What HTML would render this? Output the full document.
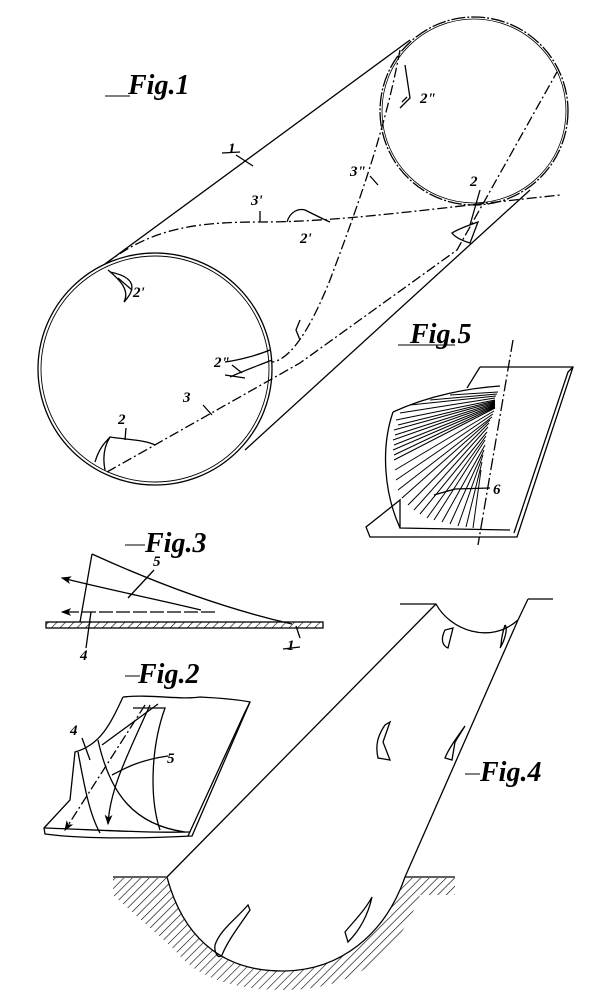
<!DOCTYPE html>
<html><head><meta charset="utf-8"><style>
html,body{margin:0;padding:0;background:#fff;}
svg{display:block}
text{font-family:"Liberation Serif",serif;font-style:italic;font-weight:bold;fill:#000}
.f{font-size:28px}
.n{font-size:15px}
</style></head><body>
<svg width="600" height="1000" viewBox="0 0 600 1000" xmlns="http://www.w3.org/2000/svg">
<defs>
<pattern id="h" width="6" height="6" patternUnits="userSpaceOnUse" patternTransform="rotate(45)">
<line x1="0" y1="0" x2="0" y2="6" stroke="#000" stroke-width="1.2"/></pattern>
<marker id="a" markerWidth="8" markerHeight="8" refX="7" refY="4" orient="auto"><path d="M8,4 L0,1 L2,4 L0,7Z" fill="#000"/></marker>
</defs>
<g fill="none" stroke="#000" stroke-width="1.3">
<!-- Fig1 -->
<line x1="105" y1="264" x2="410" y2="40"/>
<line x1="245" y1="450" x2="530" y2="190"/>
<ellipse cx="474" cy="111" rx="94" ry="94" stroke-dasharray="14 2 2 2"/>
<ellipse cx="474" cy="111" rx="92" ry="92" stroke-width="0.8"/>
<ellipse cx="155" cy="369" rx="117" ry="116"/>
<ellipse cx="155" cy="369" rx="114" ry="113" stroke-width="0.9"/>
<path d="M105,264 C150,230 190,222 260,222 C340,222 420,210 560,195" stroke-dasharray="10 3 2 3"/>
<path d="M400,50 C385,130 360,200 330,280 C310,330 290,360 272,362" stroke-dasharray="10 3 2 3"/>
<path d="M107,472 L300,363 L457,250 L557,72" stroke-dasharray="10 3 2 3"/>
<path d="M108,270 C120,280 130,290 124,302 M110,272 C130,276 140,285 124,302"/>
<path d="M225,362 C240,360 258,355 270,350 M230,377 C245,370 260,365 272,360 M225,375 L245,378"/>
<path d="M95,462 C100,445 108,440 110,437 C130,440 145,440 155,445 M105,470 C102,455 105,445 110,437"/>
<path d="M405,65 L410,98 L400,108"/>
<path d="M452,233 C460,228 470,225 478,222 L470,243 C460,240 455,237 452,233Z"/>
<path d="M287,222 C290,212 298,208 305,210 C315,215 325,220 330,222"/>
<path d="M300,320 L296,330 L300,340"/>
<line x1="236" y1="155" x2="253" y2="166"/><line x1="222" y1="153" x2="240" y2="152"/>
<line x1="260" y1="211" x2="260" y2="222"/>
<line x1="370" y1="176" x2="378" y2="185"/>
<line x1="480" y1="190" x2="470" y2="225"/>
<line x1="203" y1="405" x2="212" y2="415"/>
<line x1="126" y1="428" x2="125" y2="440"/>
<line x1="232" y1="365" x2="242" y2="373"/>
<line x1="407" y1="97" x2="402" y2="102"/>
<line x1="132" y1="290" x2="118" y2="278"/>
<line x1="105" y1="96" x2="130" y2="96" stroke-width="1"/>
<!-- Fig5 -->
<line x1="398" y1="345" x2="455" y2="345" stroke-width="1"/>
<path d="M480,367 L573,367 L517,537 L370,537 L366,527 L400,500 L400,528 L510,530 M573,367 L568,372 L514,533"/>
<path d="M480,367 L467,388"/>
<path d="M393,412 C430,395 470,388 500,386"/>
<path d="M393,412 C380,450 385,495 400,528"/>
<path d="M513,340 L478,545" stroke-dasharray="12 3 2 3"/>
<g stroke-width="1">
<path d="M495,400 L396,420 M495,402 L394,430 M495,404 L393,440 M495,406 L393,450 M495,408 L394,460 M494,411 L395,470 M493,414 L396,480 M492,417 L398,490 M490,420 L402,498 M489,423 L408,505 M488,427 L414,510 M487,432 L420,514 M486,436 L427,518 M485,440 L434,520 M485,445 L442,522 M484,450 L450,524 M483,455 L458,526 M482,462 L466,527 M481,470 L473,528 M495,398 L400,413 M496,396 L410,405 M497,394 L430,400 M498,392 L450,395 M495,401 L398,425 M495,403 L395,435 M495,405 L394,445 M495,407 L394,455"/>
</g>
<line x1="455" y1="489" x2="490" y2="488"/><line x1="434" y1="495" x2="455" y2="489"/>
<!-- Fig3 -->
<line x1="125" y1="545" x2="145" y2="545" stroke-width="1"/>
<rect x="46" y="622" width="277" height="6" fill="url(#h)"/>
<path d="M92,554 L80,622 M92,554 C160,585 230,610 292,624"/>
<path d="M201,610 C160,600 110,590 62,578" marker-end="url(#a)"/>
<path d="M215,612 L62,612" stroke-dasharray="14 3" marker-end="url(#a)"/>
<path d="M154,570 L128,598 M91,612 L86,648 M296,626 L300,638 M283,649 L300,647"/>
<!-- Fig2 -->
<line x1="125" y1="676" x2="140" y2="676" stroke-width="1"/>
<path d="M123,697 C150,694 180,700 200,697 C220,698 240,700 250,702 L192,836 C150,838 90,840 45,834 L44,828 L70,800 L75,752 C100,745 110,725 123,697"/>
<path d="M250,702 L245,712 L188,836"/>
<path d="M44,828 C100,830 150,833 190,832"/>
<path d="M133,708 L165,708 C150,750 150,800 160,830"/>
<path d="M78,752 C85,790 90,815 100,833 M98,740 C110,795 135,825 185,832 M158,704 L102,745"/>
<path d="M145,705 L65,830" stroke-dasharray="10 3 2 3" marker-end="url(#a)"/>
<path d="M150,705 C125,760 110,790 108,824" marker-end="url(#a)"/>
<path d="M82,738 L90,760 M168,756 C140,760 125,768 112,775"/>
<!-- Fig4 -->
<line x1="465" y1="774" x2="480" y2="774" stroke-width="1"/>
<path d="M400,604 L436,604 C450,630 490,645 518,620 M528,599 L553,599 M528,599 L518,620"/>
<line x1="436" y1="604" x2="167" y2="877"/>
<line x1="518" y1="620" x2="405" y2="877"/>
<path d="M113,877 L167,877 M405,877 L455,877"/>
<path d="M113,878 L167,878 C185,945 230,972 285,971 C340,970 385,935 405,878 L455,878 L455,895 L420,895 C400,950 360,990 285,990 C220,990 190,970 175,950 L113,895Z" fill="url(#h)" stroke="none"/>
<path d="M167,877 C185,945 230,972 285,971 C340,970 385,935 405,877" fill="#fff"/>
<path d="M215,945 C220,930 235,920 248,905 L250,910 C240,925 228,940 222,955 M215,945 C214,952 218,960 222,955"/>
<path d="M345,932 C355,920 365,910 372,897 C368,915 360,930 348,942 Z"/>
<path d="M445,630 C440,640 443,646 448,648 L453,628Z M505,625 C500,640 502,645 500,648 C505,640 508,628 505,625"/>
<path d="M385,725 C378,735 375,745 378,758 L390,760 L383,742 L390,722Z"/>
<path d="M465,726 C455,740 448,750 445,758 L452,760 L455,742 L465,726Z"/>
</g>
<text class="f" x="128" y="94">Fig.1</text>
<text class="f" x="410" y="343">Fig.5</text>
<text class="f" x="145" y="552">Fig.3</text>
<text class="f" x="138" y="683">Fig.2</text>
<text class="f" x="480" y="781">Fig.4</text>
<text class="n" x="228" y="153">1</text>
<text class="n" x="251" y="205">3'</text>
<text class="n" x="350" y="176">3"</text>
<text class="n" x="420" y="103">2"</text>
<text class="n" x="470" y="186">2</text>
<text class="n" x="300" y="243">2'</text>
<text class="n" x="133" y="297">2'</text>
<text class="n" x="214" y="367">2"</text>
<text class="n" x="183" y="402">3</text>
<text class="n" x="118" y="424">2</text>
<text class="n" x="493" y="494">6</text>
<text class="n" x="153" y="566">5</text>
<text class="n" x="80" y="660">4</text>
<text class="n" x="287" y="650">1</text>
<text class="n" x="70" y="735">4</text>
<text class="n" x="167" y="763">5</text>
</svg>
</body></html>
